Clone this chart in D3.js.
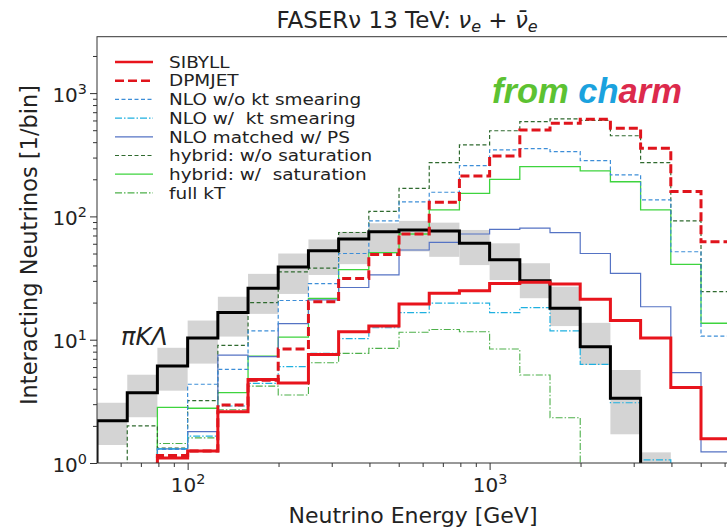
<!DOCTYPE html>
<html>
<head>
<meta charset="utf-8">
<script src="https://cdn.jsdelivr.net/npm/d3@7"></script>
<style>
  body { margin: 0; background: #fff; }
  text { font-family: 'DejaVu Sans', sans-serif; fill: #222; }
</style>
</head>
<body>
<div id="chart"></div>
<script>
// bin edges (GeV), 10 bins per decade
const binEdges = [50.1, 63.1, 79.4, 100, 125.9, 158.5, 199.5, 251.2, 316.2, 398.1, 501.2,
  631, 794.3, 1000, 1258.9, 1584.9, 1995.3, 2511.9, 3162.3, 3981.1, 5011.9, 6309.6]

// light hadrons (pi K Lambda) with uncertainty band
const lightHadrons = [2.2, 3.72, 6.12, 10.3, 16.6, 26.1, 38.8, 52.6, 65.6, 75.2, 77.5, 76, 60.5, 44.6, 30.1, 18.0, 8.78, 3.35, 0, 0, 0]
const bandLow = [1.4, 2.35, 3.86, 6.4, 10.6, 16.2, 23.5, 33.5, 41, 50, 52, 47, 40.3, 30.5, 21.7, 12.9, 6.24, 1.71, 0, 0, 0]
const bandHigh = [3.08, 5.2, 8.6, 14.3, 22.3, 34.2, 50, 65, 75, 88, 92, 89, 77.6, 60.5, 41.7, 26.9, 13.7, 5.68, 1.22, 0, 0]

// charm predictions
const sibyll = [0, 0, 1.1, 1.25, 2.6, 4.75, 4.45, 7.6, 11.6, 12.9, 19.5, 23.8, 25, 28.6, 29.2, 28.3, 21.3, 14.3, 10.3, 4.1, 1.57]
const dpmjet = [0, 0, 1.15, 1.25, 2.95, 4.7, 8.4, 20.3, 31.3, 49, 72, 130, 213, 309, 502, 569, 613, 518, 357, 159, 62.4]
const nloNoKt = [0, 0, 1.29, 4.35, 5.75, 11.8, 20.8, 28.5, 50, 92, 131, 157, 258, 346, 354, 335, 283, 217, 136, 51.7, 10.7]
const nloKt = [0, 0, 1.3, 1.65, 2.9, 4.43, 6.04, 7.75, 10.2, 12.5, 16.6, 19.8, 19.8, 16.6, 18.2, 11.8, 6.3, 3.08, 1.06, 0, 0]
const nloPs = [0, 0, 1.3, 1.8, 7.5, 7.3, 13.5, 21, 26.5, 33.5, 53.4, 61.6, 72, 78.6, 80.2, 73.8, 50, 34.5, 18.5, 5.4, 1.23]
const hybridNoSat = [0, 2.0, 1.32, 3.2, 9.0, 20, 35.5, 38, 74, 110, 169, 273, 380, 495, 586, 617, 600, 451, 273, 92, 24.5]
const hybridSat = [0, 0, 2.83, 2.78, 3.72, 7.35, 10.5, 21.6, 37, 50.8, 72, 113, 154, 200, 253, 253, 234, 191, 113, 40.9, 13.6]
const fullKt = [0, 0, 1.44, 1.6, 2.7, 4.2, 3.56, 6.5, 7.75, 8.5, 11.5, 12.1, 11.6, 8.4, 5.17, 2.33, 0, 0, 0, 0, 0]

const legendLabels = ['SIBYLL', 'DPMJET', 'NLO w/o kt smearing', 'NLO w/  kt smearing',
  'NLO matched w/ PS', 'hybrid: w/o saturation', 'hybrid: w/  saturation', 'full kT']

const xMajorTicks = [100, 1000]
const xMinorTicks = [60, 70, 80, 90, 200, 300, 400, 500, 600, 700, 800, 900, 2000, 3000, 4000, 5000, 6000]
const yMajorTicks = [1, 10, 100, 1000]
const yMinorTicks = [2, 3, 4, 5, 6, 7, 8, 9, 20, 30, 40, 50, 60, 70, 80, 90, 200, 300, 400, 500, 600, 700, 800, 900, 2000]

let margin = { top: 36.7, left: 97, bottom: 67 }
let width = 727
let height = 530
let plotRight = 731.2
let plotBottom = height - margin.bottom

const svg = d3
  .select('#chart')
  .append('svg')
  .attr('width', width)
  .attr('height', height)

var xPositionScale = d3
  .scaleLog()
  .domain([50.1, 6309.6])
  .range([margin.left, plotRight])

var yPositionScale = d3
  .scaleLog()
  .domain([1, 2867])
  .range([plotBottom, margin.top])

svg
  .append('clipPath')
  .attr('id', 'plot-clip')
  .append('rect')
  .attr('x', margin.left)
  .attr('y', margin.top)
  .attr('width', plotRight - margin.left)
  .attr('height', plotBottom - margin.top)

const plot = svg.append('g').attr('clip-path', 'url(#plot-clip)')

// uncertainty band
const floorValue = 0.3
plot
  .selectAll('.band')
  .data(bandHigh.map((hi, i) => ({ lo: bandLow[i], hi: hi, i: i })).filter(d => d.hi > 0))
  .enter()
  .append('rect')
  .attr('class', 'band')
  .attr('x', d => xPositionScale(binEdges[d.i]))
  .attr('width', d => xPositionScale(binEdges[d.i + 1]) - xPositionScale(binEdges[d.i]))
  .attr('y', d => yPositionScale(d.hi))
  .attr('height', d => yPositionScale(d.lo > 0 ? d.lo : floorValue) - yPositionScale(d.hi))
  .attr('fill', '#d4d4d4')

function stepPoints(values) {
  let pts = [[binEdges[0], floorValue]]
  values.forEach((v, i) => {
    let vv = v > 0 ? v : floorValue
    pts.push([binEdges[i], vv])
    pts.push([binEdges[i + 1], vv])
  })
  pts.push([binEdges[binEdges.length - 1], floorValue])
  return pts
}

const line = d3
  .line()
  .x(d => xPositionScale(d[0]))
  .y(d => yPositionScale(d[1]))

// styles for each curve, in drawing order
const curves = [
  { values: fullKt, color: '#4db04a', width: 1.1, dash: '7,2,1.5,2', legend: 7 },
  { values: hybridSat, color: '#3ed43e', width: 1.3, dash: null, legend: 6 },
  { values: hybridNoSat, color: '#2f6a2f', width: 1.2, dash: '4,2.5', legend: 5 },
  { values: nloPs, color: '#5573c4', width: 1.2, dash: null, legend: 4 },
  { values: nloKt, color: '#1eb0e0', width: 1.2, dash: '7,2,1.5,2', legend: 3 },
  { values: nloNoKt, color: '#3d8ed8', width: 1.2, dash: '4,2.5', legend: 2 },
  { values: lightHadrons, color: '#000', width: 3, dash: null },
  { values: sibyll, color: '#e8141c', width: 3, dash: null, legend: 0 },
  { values: dpmjet, color: '#e0141c', width: 3, dash: '9,4', legend: 1 }
]

plot
  .selectAll('.curve')
  .data(curves)
  .enter()
  .append('path')
  .attr('class', 'curve')
  .attr('d', d => line(stepPoints(d.values)))
  .attr('fill', 'none')
  .attr('stroke', d => d.color)
  .attr('stroke-width', d => d.width)
  .attr('stroke-dasharray', d => d.dash)
  .attr('stroke-linejoin', 'miter')

// axes
function superscript(sel) {
  sel.each(function(d) {
    let t = d3.select(this).text('')
    t.append('tspan').text('10')
    t.append('tspan')
      .attr('dy', '-0.55em')
      .attr('font-size', '72%')
      .text(Math.round(Math.log10(d)))
  })
}

const xMinor = svg
  .append('g')
  .attr('transform', 'translate(0,' + plotBottom + ')')
  .call(d3.axisBottom(xPositionScale).tickValues(xMinorTicks).tickSize(4).tickSizeOuter(0).tickFormat(''))
xMinor.select('.domain').remove()

const xMajor = svg
  .append('g')
  .attr('transform', 'translate(0,' + plotBottom + ')')
  .call(d3.axisBottom(xPositionScale).tickValues(xMajorTicks).tickSize(7).tickSizeOuter(0))
xMajor.select('.domain').remove()
xMajor.selectAll('.tick text').attr('font-size', 20).attr('dy', '0.95em').call(superscript)

const yMinor = svg
  .append('g')
  .attr('transform', 'translate(' + margin.left + ',0)')
  .call(d3.axisLeft(yPositionScale).tickValues(yMinorTicks).tickSize(4).tickSizeOuter(0).tickFormat(''))
yMinor.select('.domain').remove()

const yMajor = svg
  .append('g')
  .attr('transform', 'translate(' + margin.left + ',0)')
  .call(d3.axisLeft(yPositionScale).tickValues(yMajorTicks).tickSize(7).tickSizeOuter(0))
yMajor.select('.domain').remove()
yMajor.selectAll('.tick text').attr('font-size', 20).attr('dy', '0.4em').call(superscript)

svg.selectAll('.tick line').attr('stroke', '#333')
svg.selectAll('.tick text').attr('fill', '#222').style('font-family', "'DejaVu Sans', sans-serif")

// spines
svg
  .append('rect')
  .attr('x', margin.left)
  .attr('y', margin.top)
  .attr('width', plotRight - margin.left)
  .attr('height', plotBottom - margin.top)
  .attr('fill', 'none')
  .attr('stroke', '#333')
  .attr('stroke-width', 1)

// titles
const title = svg
  .append('text')
  .attr('x', 407)
  .attr('y', 28)
  .attr('text-anchor', 'middle')
  .attr('font-size', 23)
title.append('tspan').text('FASERν 13 TeV: ')
title.append('tspan').attr('font-style', 'italic').text('ν')
title.append('tspan').attr('font-style', 'italic').attr('font-size', 16).attr('dy', 4).text('e')
title.append('tspan').attr('dy', -4).text(' + ')
title.append('tspan').attr('font-style', 'italic').text('ν\u0304')
title.append('tspan').attr('font-style', 'italic').attr('font-size', 16).attr('dy', 4).text('e')

svg
  .append('text')
  .attr('x', 413)
  .attr('y', 523)
  .attr('text-anchor', 'middle')
  .attr('font-size', 22)
  .text('Neutrino Energy [GeV]')

svg
  .append('text')
  .attr('transform', 'translate(37,245) rotate(-90)')
  .attr('text-anchor', 'middle')
  .attr('font-size', 22.5)
  .text('Interacting Neutrinos [1/bin]')

// annotations
svg
  .append('text')
  .attr('x', 121)
  .attr('y', 345)
  .attr('font-size', 24)
  .attr('font-style', 'italic')
  .text('πKΛ')

const charm = svg
  .append('text')
  .attr('x', 492)
  .attr('y', 103)
  .attr('font-size', 34.5)
  .attr('font-weight', 'bold')
  .attr('font-style', 'italic')
  .style('font-family', "'Liberation Sans', Arial, sans-serif")
charm.append('tspan').attr('fill', '#5cc232').text('from ')
charm.append('tspan').attr('fill', '#1ba2de').text('ch')
charm.append('tspan').attr('fill', '#dc2a4c').text('arm')

// legend
const legendItems = curves.filter(d => d.legend !== undefined).sort((a, b) => a.legend - b.legend)
const legend = svg
  .selectAll('.legend')
  .data(legendItems)
  .enter()
  .append('g')
  .attr('class', 'legend')
  .attr('transform', d => 'translate(0,' + (62 + d.legend * 18.7) + ')')

legend
  .append('line')
  .attr('x1', 115)
  .attr('x2', 153)
  .attr('stroke', d => d.color)
  .attr('stroke-width', d => (d.width > 2 ? 2.6 : d.width))
  .attr('stroke-dasharray', d => d.dash)

// text is stretched a little sideways so the tight rows keep the reference width
legend
  .append('text')
  .attr('transform', 'translate(169,0) scale(1.16,1)')
  .attr('dy', '0.36em')
  .attr('font-size', 15.9)
  .style('white-space', 'pre')
  .text(d => legendLabels[d.legend])
</script>
</body>
</html>
